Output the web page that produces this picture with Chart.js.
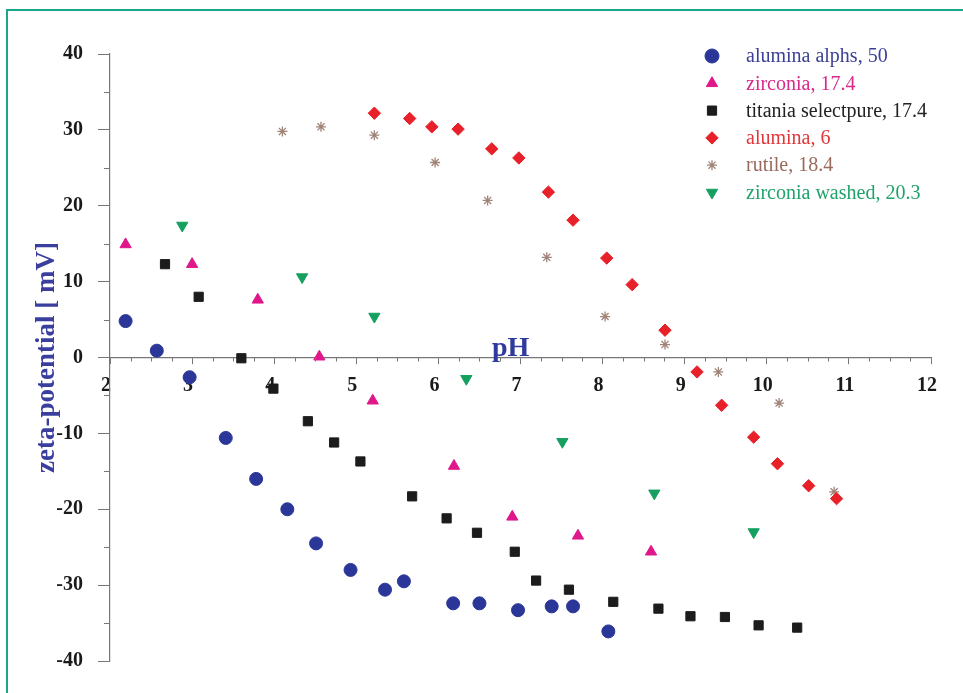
<!DOCTYPE html>
<html><head><meta charset="utf-8">
<script src="https://cdn.jsdelivr.net/npm/chart.js@4.4.1/dist/chart.umd.min.js"></script>
<style>html,body{margin:0;padding:0;background:#fff;}#wrap{width:963px;height:693px;}</style>
</head><body><div id="wrap"><canvas id="c" width="963" height="693"></canvas></div>
<script>
// ---- data ----
const seriesLabels = ['alumina alphs, 50','zirconia, 17.4','titania selectpure, 17.4','alumina, 6','rutile, 18.4','zirconia washed, 20.3'];

const aluminaAlphsPH   = [2.19, 2.57, 2.97, 3.41, 3.78, 4.16, 4.51, 4.93, 5.35, 5.58, 6.18, 6.50, 6.97, 7.38, 7.64, 8.07];
const aluminaAlphsZeta = [4.8, 0.9, -2.6, -10.6, -16.0, -20.0, -24.5, -28.0, -30.6, -29.5, -32.4, -32.4, -33.3, -32.8, -32.8, -36.1];

const zirconiaPH   = [2.19, 3.00, 3.80, 4.55, 5.20, 6.19, 6.90, 7.70, 8.59];
const zirconiaZeta = [14.9, 12.3, 7.6, 0.1, -5.7, -14.3, -21.0, -23.5, -25.6];

const titaniaPH   = [2.67, 3.08, 3.60, 3.99, 4.41, 4.73, 5.05, 5.68, 6.10, 6.47, 6.93, 7.19, 7.59, 8.13, 8.68, 9.07, 9.49, 9.90, 10.37];
const titaniaZeta = [12.3, 8.0, -0.1, -4.1, -8.4, -11.2, -13.7, -18.3, -21.2, -23.1, -25.6, -29.4, -30.6, -32.2, -33.1, -34.1, -34.2, -35.3, -35.6];

const alumina6PH   = [5.22, 5.65, 5.92, 6.24, 6.65, 6.98, 7.34, 7.64, 8.05, 8.36, 8.76, 9.15, 9.45, 9.84, 10.13, 10.51, 10.85];
const alumina6Zeta = [32.2, 31.5, 30.4, 30.1, 27.5, 26.3, 21.8, 18.1, 13.1, 9.6, 3.6, -1.9, -6.3, -10.5, -14.0, -16.9, -18.6];

const rutilePH   = [4.10, 4.57, 5.22, 5.96, 6.60, 7.32, 8.03, 8.76, 9.41, 10.15, 10.82];
const rutileZeta = [29.8, 30.4, 29.3, 25.7, 20.7, 13.2, 5.4, 1.7, -1.9, -6.0, -17.7];

const zirconiaWashedPH   = [2.88, 4.34, 5.22, 6.34, 7.51, 8.63, 9.84];
const zirconiaWashedZeta = [17.4, 10.6, 5.4, -2.8, -11.1, -17.9, -23.0];

const xMin = 2, xMax = 12, yMin = -40, yMax = 40;

// ---- styles ----
const SERIF = "'Liberation Serif', 'Times New Roman', serif";
const markerColors = ['#2b3699', '#e0178a', '#1c1c1c', '#e8202a', '#a08478', '#15a060'];
const textColors   = ['#3c4196', '#d9288a', '#222222', '#e2373a', '#9a6a5c', '#20a36a'];
const styles = [
  {pointStyle:'circle', radius:6.5, rotation:0, borderWidth:1},
  {pointStyle:'triangle', radius:6.5, rotation:0, borderWidth:1},
  {pointStyle:'rect', radius:6.5, rotation:0, borderWidth:1},
  {pointStyle:'rectRot', radius:6.2, rotation:0, borderWidth:1},
  {pointStyle:'star', radius:5, rotation:0, borderWidth:1.3},
  {pointStyle:'triangle', radius:6.5, rotation:180, borderWidth:1}
];

function pts(xs, ys){ return xs.map((x,i)=>({x:x, y:ys[i]})); }
const seriesData = [
  pts(aluminaAlphsPH, aluminaAlphsZeta),
  pts(zirconiaPH, zirconiaZeta),
  pts(titaniaPH, titaniaZeta),
  pts(alumina6PH, alumina6Zeta),
  pts(rutilePH, rutileZeta),
  pts(zirconiaWashedPH, zirconiaWashedZeta)
];

const datasets = seriesData.map((d,i)=>({
  label: seriesLabels[i],
  data: d,
  showLine: false,
  pointStyle: styles[i].pointStyle,
  pointRadius: styles[i].radius,
  pointRotation: styles[i].rotation,
  pointBorderWidth: styles[i].borderWidth,
  pointBackgroundColor: markerColors[i],
  pointBorderColor: markerColors[i]
}));

const decor = {
  id: 'decor',
  beforeDraw(chart){
    const ctx = chart.ctx;
    ctx.save();
    ctx.fillStyle = '#ffffff';
    ctx.fillRect(0,0,chart.width,chart.height);
    ctx.strokeStyle = '#1aa68c';
    ctx.lineWidth = 2;
    ctx.beginPath();
    ctx.moveTo(7, chart.height);
    ctx.lineTo(7, 10);
    ctx.lineTo(chart.width, 10);
    ctx.stroke();
    ctx.restore();
  },
  afterDraw(chart){
    const ctx = chart.ctx;
    const xs = chart.scales.x, ys = chart.scales.y;
    const y0 = ys.getPixelForValue(0);
    const xAxisPx = xs.getPixelForValue(xMin);
    ctx.save();
    ctx.strokeStyle = '#777';
    ctx.lineWidth = 1;
    // minor ticks on x (every 0.25)
    ctx.beginPath();
    for (let k = 1; k < (xMax - xMin) * 4; k++) {
      if (k % 4 === 0) continue;
      const px = Math.round(xs.getPixelForValue(xMin + k * 0.25)) + 0.5;
      ctx.moveTo(px, y0);
      ctx.lineTo(px, y0 + 4);
    }
    // minor ticks on y (every 5)
    for (let v = yMin + 5; v < yMax; v += 10) {
      const py = Math.round(ys.getPixelForValue(v)) + 0.5;
      ctx.moveTo(xAxisPx, py);
      ctx.lineTo(xAxisPx - 6, py);
    }
    ctx.stroke();
    // pH label
    ctx.fillStyle = '#2f3a9c';
    ctx.font = "bold 28px " + SERIF;
    ctx.textAlign = 'center';
    ctx.textBaseline = 'middle';
    ctx.fillText('pH', xs.getPixelForValue(6.88), ys.getPixelForValue(1.2));
    // legend
    ctx.font = "20px " + SERIF;
    ctx.textAlign = 'left';
    for (let i = 0; i < datasets.length; i++) {
      const ly = 56 + 27.3 * i;
      ctx.fillStyle = markerColors[i];
      ctx.strokeStyle = markerColors[i];
      ctx.lineWidth = styles[i].borderWidth;
      Chart.helpers.drawPoint(ctx, {pointStyle: styles[i].pointStyle, radius: styles[i].radius + (i === 0 ? 0.5 : 0), rotation: styles[i].rotation, borderWidth: styles[i].borderWidth}, 712, ly);
      ctx.fillStyle = textColors[i];
      ctx.fillText(seriesLabels[i], 746, ly + 1);
    }
    ctx.restore();
  }
};

new Chart(document.getElementById('c'), {
  type: 'scatter',
  data: { datasets: datasets },
  options: {
    responsive: false,
    animation: false,
    devicePixelRatio: 1,
    layout: { padding: { left: 18, top: 54, right: 32, bottom: 32 } },
    plugins: { legend: { display: false }, tooltip: { enabled: false } },
    scales: {
      x: {
        type: 'linear', min: xMin, max: xMax,
        position: { y: 0 },
        ticks: { stepSize: 1, color: '#1a1a1a', font: { family: SERIF, size: 20, weight: 'bold' }, padding: 10, labelOffset: -4, maxRotation: 0 },
        grid: { drawOnChartArea: false, drawTicks: true, tickLength: 6, color: '#777' },
        border: { display: true, color: '#777', width: 1.2 }
      },
      y: {
        type: 'linear', min: yMin, max: yMax,
        position: 'left',
        afterFit: (s) => { s.width = 92; },
        ticks: { stepSize: 10, color: '#1a1a1a', font: { family: SERIF, size: 20, weight: 'bold' }, padding: 15 },
        grid: { drawOnChartArea: false, drawTicks: true, tickLength: 12, color: '#777' },
        border: { display: true, color: '#777', width: 1.2 },
        title: { display: true, text: 'zeta-potential [ mV]', color: '#3a3f9e', font: { family: SERIF, size: 27, weight: 'bold' }, padding: { top: 13, bottom: 0 } }
      }
    }
  },
  plugins: [decor]
});
</script>
</body></html>
